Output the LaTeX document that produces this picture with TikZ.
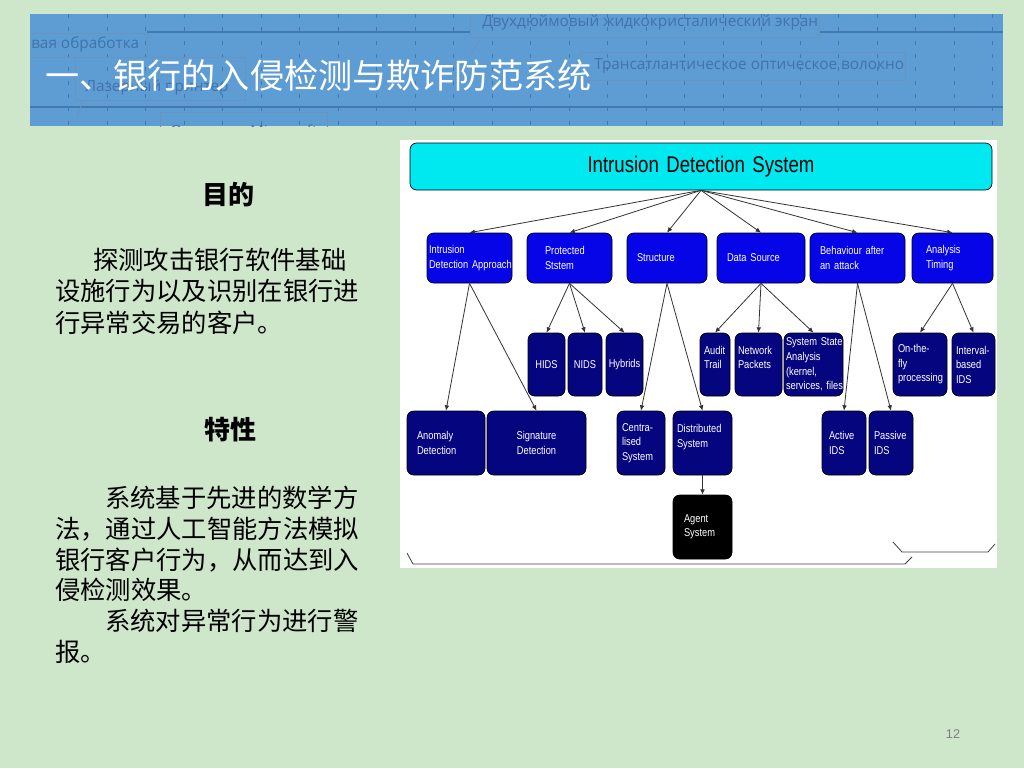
\documentclass[tikz,border=0pt]{standalone}
\usepackage{fontspec}
\newfontfamily\cjk{Noto Sans CJK SC}
\newfontfamily\idsfont[FakeStretch=0.82]{Liberation Sans}
\newfontfamily\numfont{Liberation Sans}
\newfontfamily\decofont{Open Sans}
\usetikzlibrary{arrows.meta}
\definecolor{slidegreen}{RGB}{206,230,201}
\definecolor{bandblue}{RGB}{94,156,212}
\definecolor{bandline}{RGB}{66,121,176}
\definecolor{bandtext}{RGB}{64,116,170}
\definecolor{boxblue}{RGB}{5,5,232}
\definecolor{boxnavy}{RGB}{5,5,128}
\definecolor{idscyan}{RGB}{0,232,240}
\tikzset{
	idsbase/.style={draw=black, line width=0.5pt, rounded corners=5pt, inner xsep=0pt, inner ysep=1pt, text=white, align=left, font=\idsfont\fontsize{8.5}{10.9}\selectfont},
	rowtwo/.style={idsbase, fill=boxblue},
	rowlow/.style={idsbase, fill=boxnavy},
	agentbox/.style={idsbase, fill=black},
	headbox/.style={idsbase, fill=idscyan, text=black, align=center, font=\idsfont\fontsize{17}{20}\selectfont},
	link/.style={-{Latex[length=4pt,width=3.5pt]}, line width=0.6pt, draw=black!80},
	bline/.style={line width=0.6pt, draw=black!75},
	dashv/.style={bandline, line width=0.75pt, dash pattern=on 3pt off 7pt},
	deco/.style={bandline!80, line width=0.6pt},
	decotext/.style={text=bandtext, anchor=west, inner sep=0pt, font=\decofont\fontsize{11.5}{13}\selectfont},
	body/.style={anchor=base west, inner sep=0pt, font=\cjk\fontsize{19}{23}\selectfont},
	heading/.style={anchor=base, inner sep=0pt, font=\cjk\bfseries\fontsize{19.5}{23}\selectfont}
}
% box from corners: [text indent]{name}{x1}{y1}{x2}{y2}{style}{text}
\newcommand\idsbox[8][4]{%
	\pgfmathsetmacro\idsw{(#5-#3)*0.75}%
	\pgfmathsetmacro\idsh{(#6-#4)*0.75}%
	\pgfmathsetmacro\idst{(#5-#3-2*#1)*0.75}%
	\node[#7, minimum width=\idsw pt, minimum height=\idsh pt, text width=\idst pt] (#2) at ({(#3+#5)/2},{(#4+#6)/2}) {#8};}

\begin{document}
\begin{tikzpicture}[x=0.75pt, y=-0.75pt]
			%%%%% START %%%%%
			
			\fill[slidegreen] (0,0) rectangle (1024,768);
			
			%%%%% title band
			\fill[bandblue] (30,14) rectangle (1003,126);
			\begin{scope}
				\clip (30,14) rectangle (1003,126);
				\foreach \k in {1,...,25}
					\draw[dashv] ({30+38.5*\k},14) -- ({30+38.5*\k},126);
				\draw[bandline, line width=2pt] (147,32) -- (470,32);
				\draw[bandline, line width=2pt] (819,32) -- (1003,32);
				\draw[bandline, line width=2pt] (30,107) -- (1003,107);
				\draw[deco] (470,14) -- (470,37) -- (819,37) -- (819,14);
				\draw[deco] (481,37) -- (471,55);
				\draw[deco] (29,33) rectangle (147,57);
				\draw[deco] (75,57) rectangle (245,100);
				\draw[deco] (83,100) -- (77,118);
				\draw[deco] (160,112) rectangle (327,132);
				\draw[deco] (580,52) rectangle (905,80);
				\draw[deco] (588,80) -- (581,97);
				\node[decotext] (lcd) at (482,23) {Двухдюймовый жидкокристалический экран};
				\node[decotext] (proc) at (31,44) {вая обработка};
				\node[decotext] (laser) at (85,88) {Лазерный принтер};
				\node[decotext] (fibre) at (594,66) {Трансатлантическое оптическое волокно};
				\node[decotext] (ms) at (170,132) {Операция Microsoft};
			\end{scope}
			\node[anchor=base west, inner sep=0pt, text=white, font=\cjk\fontsize{25.6}{30}\selectfont] (title) at (45,88) {一、银行的入侵检测与欺诈防范系统};
			
			%%%%% left column
			\node[heading] (aim) at (228,204) {目的};
			\foreach \x/\y/\t [count=\i] in {93/269/探测攻击银行软件基础, 55/300.5/设施行为以及识别在银行进, 55/332/行异常交易的客户。}
				\node[body] (aim\i) at (\x,\y) {\t};
			\node[heading] (feat) at (230,439.5) {特性};
			\foreach \x/\y/\t [count=\i] in {105/507/系统基于先进的数学方, 55/538/法，通过人工智能方法模拟, 55/569/银行客户行为，从而达到入, 55/599.5/侵检测效果。, 105/630.5/系统对异常行为进行警, 55/661/报。}
				\node[body] (feat\i) at (\x,\y) {\t};
			
			%%%%% diagram
			\fill[white] (400,140) rectangle (997,568);
			\idsbox{ids}{410}{143}{992}{190}{headbox}{Intrusion Detection System}
			
			\idsbox[2]{approach}{427}{233}{512}{283}{rowtwo}{Intrusion\\\mbox{Detection Approach}}
			\idsbox[18]{protected}{527}{233}{612}{283}{rowtwo}{Protected\\Ststem}
			\idsbox[10]{structure}{627}{233}{707}{283}{rowtwo}{Structure}
			\idsbox[10]{source}{717}{233}{805}{283}{rowtwo}{Data Source}
			\idsbox[10]{behaviour}{810}{233}{905}{283}{rowtwo}{\mbox{Behaviour after}\\an attack}
			\idsbox[14]{timing}{912}{233}{993}{283}{rowtwo}{Analysis\\Timing}
			
			\idsbox[1]{hids}{528}{333}{565}{396}{rowlow, align=center}{HIDS}
			\idsbox[1]{nids}{568}{333}{602}{396}{rowlow, align=center}{NIDS}
			\idsbox[1]{hybrids}{606}{333}{643}{396}{rowlow, align=center}{Hybrids}
			\idsbox[4]{audit}{700}{333}{730}{396}{rowlow}{Audit\\Trail\\\mbox{}}
			\idsbox[3]{packets}{735}{333}{782}{396}{rowlow}{Network\\Packets\\\mbox{}}
			\idsbox[2]{state}{784}{333}{843}{396}{rowlow}{\mbox{System State}\\Analysis\\(kernel,\\\mbox{services, files}}
			\idsbox[5]{onfly}{893}{333}{947}{396}{rowlow}{On-the-\\fly\\processing}
			\idsbox[4]{interval}{952}{333}{995}{396}{rowlow}{Interval-\\based\\IDS}
			
			\idsbox[10]{anomaly}{407}{411}{485}{475}{rowlow}{Anomaly\\Detection}
			\idsbox[2]{signature}{487}{411}{586}{475}{rowlow, align=center}{Signature\\Detection}
			\idsbox[5]{central}{617}{411}{665}{475}{rowlow}{Centra-\\lised\\System}
			\idsbox[4]{distributed}{673}{411}{732}{475}{rowlow}{Distributed\\System\\\mbox{}}
			\idsbox[7]{active}{822}{411}{866}{475}{rowlow}{Active\\IDS}
			\idsbox[5]{passive}{869}{411}{913}{475}{rowlow}{Passive\\IDS}
			\idsbox[11]{agent}{673}{495}{732}{559}{agentbox}{Agent\\System}
			
			\foreach \c in {approach,protected,structure,source,behaviour,timing}
				\draw[link] (ids.south) -- (\c.north);
			\foreach \p/\c in {approach/anomaly, approach/signature, protected/hids, protected/nids, protected/hybrids, structure/central, structure/distributed, distributed/agent, source/audit, source/packets, source/state, behaviour/active, behaviour/passive, timing/onfly, timing/interval}
				\draw[link] (\p.south) -- (\c.north);
			
			\draw[bline] (407,553) -- (413,564) -- (905,564) -- (912,557);
			\draw[bline] (893,542) -- (902,552) -- (988,552) -- (995,544);
			
			\node[text=black!50, font=\numfont\fontsize{9.5}{11}\selectfont] (page) at (953,734) {12};
			
			%%%%% END %%%%%
\end{tikzpicture}
\end{document}
